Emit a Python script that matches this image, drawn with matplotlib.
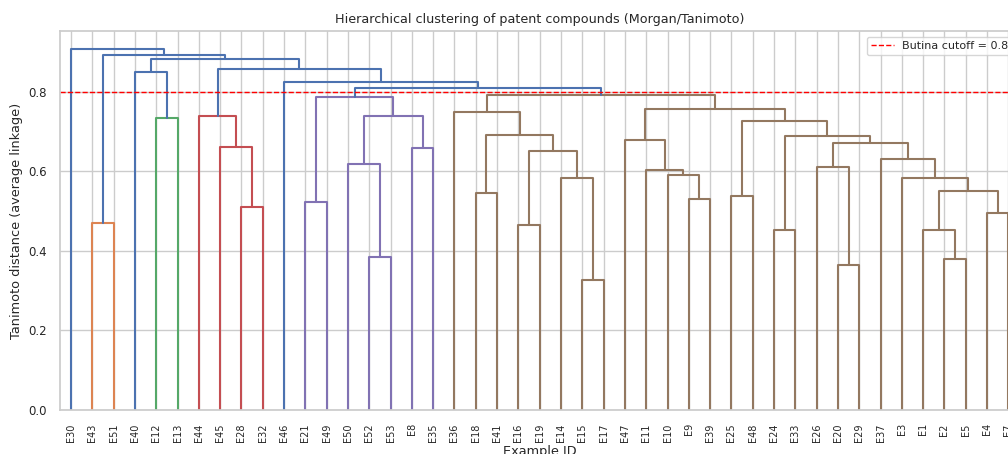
import matplotlib
matplotlib.use("Agg")
import matplotlib.pyplot as plt
import seaborn as sns

# leaf order as shown on the x axis
leaves = ["E30", "E43", "E51", "E40", "E12", "E13", "E44", "E45", "E28", "E32",
          "E46", "E21", "E49", "E50", "E52", "E53", "E8", "E35", "E36", "E18",
          "E41", "E16", "E19", "E14", "E15", "E17", "E47", "E11", "E10", "E9",
          "E39", "E25", "E48", "E24", "E33", "E26", "E20", "E29", "E37", "E3",
          "E1", "E2", "E5", "E4", "E7"]

# merges: (left, right, height); "nK" refers to the K-th merge
merge_left = ["E43", "E12", "E40", "E28", "E45", "E44", "E21", "E52", "E50", "E8",
              "n8", "n6", "E18", "E16", "E15", "E14", "n13", "n12", "E36", "E9",
              "E10", "E11", "E47", "E25", "E24", "E20", "E26", "E2", "E1", "E4",
              "n28", "E3", "E37", "n26", "n24", "n23", "n22", "n18", "n11", "E46",
              "n5", "n2", "n0", "E30"]
merge_right = ["E51", "E13", "n1", "E32", "n3", "n4", "E49", "E53", "n7", "E35",
               "n9", "n10", "E41", "E19", "E17", "n14", "n15", "n16", "n17", "E39",
               "n19", "n20", "n21", "E48", "E33", "E29", "n25", "E5", "n27", "E7",
               "n29", "n30", "n31", "n32", "n33", "n34", "n35", "n36", "n37", "n38",
               "n39", "n40", "n41", "n42"]
merge_height = [0.470, 0.735, 0.850, 0.511, 0.662, 0.739, 0.522, 0.386, 0.619, 0.660,
                0.740, 0.788, 0.547, 0.465, 0.327, 0.584, 0.652, 0.693, 0.750, 0.531,
                0.591, 0.604, 0.679, 0.538, 0.453, 0.365, 0.611, 0.380, 0.453, 0.496,
                0.551, 0.584, 0.631, 0.672, 0.689, 0.727, 0.757, 0.792, 0.809, 0.825,
                0.857, 0.883, 0.894, 0.908]

cutoff = 0.80

sns.set_theme(style="whitegrid")

fig = plt.figure(figsize=(10.08, 4.54), dpi=100)
# the axes runs past the right edge of the figure, as in the source image
ax = fig.add_axes([60.4 / 1008, 44 / 454, 958.6 / 1008, 379 / 454])

pos = {name: 5 + 10 * i for i, name in enumerate(leaves)}
hgt = {name: 0.0 for name in leaves}
for k, (a, b, h) in enumerate(zip(merge_left, merge_right, merge_height)):
    pos["n%d" % k] = (pos[a] + pos[b]) / 2
    hgt["n%d" % k] = h

# parent height of each node, to find cluster roots under the cutoff
parent_h = {}
for a, b, h in zip(merge_left, merge_right, merge_height):
    parent_h[a] = h
    parent_h[b] = h

roots = sorted([("n%d" % k) for k, h in enumerate(merge_height)
                if h < cutoff and parent_h.get("n%d" % k, 99) >= cutoff],
               key=lambda n: pos[n])
node_color = {}


def paint(node, col):
    node_color[node] = col
    if node.startswith("n"):
        k = int(node[1:])
        paint(merge_left[k], col)
        paint(merge_right[k], col)


for i, r in enumerate(roots):
    paint(r, "C%d" % (i + 1))

for k, (a, b, h) in enumerate(zip(merge_left, merge_right, merge_height)):
    col = node_color.get("n%d" % k, "C0")
    ax.plot([pos[a], pos[a], pos[b], pos[b]], [hgt[a], h, h, hgt[b]],
            color=col, lw=1.5)

ax.axhline(cutoff, color="red", linestyle="--", lw=1, label="Butina cutoff = %.2f" % cutoff)

ax.set_xlim(0, 10 * len(leaves))
ax.set_ylim(0, max(merge_height) * 1.05)
ax.set_xticks([5 + 10 * i for i in range(len(leaves))])
ax.set_xticklabels(leaves, rotation=90, fontsize=7)
ax.set_yticks([0.0, 0.2, 0.4, 0.6, 0.8])
ax.tick_params(axis="y", labelsize=8.5)
ax.set_xlabel("Example ID", fontsize=9.3, labelpad=2)
ax.set_ylabel("Tanimoto distance (average linkage)", fontsize=9.3)
ax.set_title("Hierarchical clustering of patent compounds (Morgan/Tanimoto)", fontsize=9.2)
ax.legend(loc="upper right", bbox_to_anchor=(1.007, 1.0), fontsize=8)

fig.savefig("out.png", dpi=100)
